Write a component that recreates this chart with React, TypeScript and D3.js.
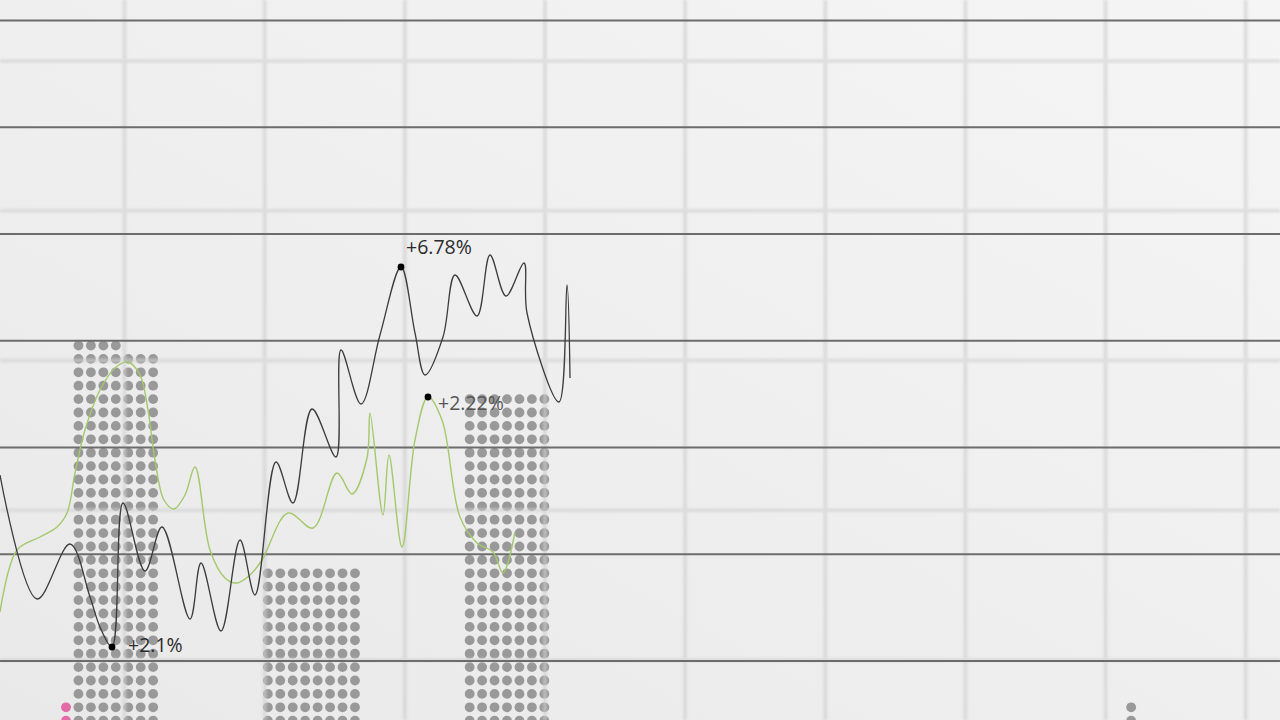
import React from "react";
import * as d3 from "d3";

// ---------- DATA ----------
// dark line series: [time, level]
const darkSeries: [number, number][] = [
  [0, 24.5], [3.7, 12.1], [7.0, 17.6], [9.0, 12.3], [10.0, 9.3], [11.2, 7.3],
  [12.3, 21.7], [14.5, 14.9], [16.2, 19.3], [19.0, 10.1], [20.1, 15.7], [22.1, 8.9],
  [24.0, 18.0], [25.5, 12.5], [27.6, 25.8], [29.3, 21.7], [31.2, 31.1], [33.6, 26.3],
  [34.1, 37.0], [36.1, 31.6], [38.0, 38.5], [40.1, 45.3], [41.5, 38.7], [42.5, 34.5],
  [44.3, 38.3], [45.5, 44.5], [47.7, 40.4], [49.0, 46.5], [50.6, 42.4], [52.4, 45.7],
  [52.7, 40.7], [55.9, 31.8], [56.7, 43.5], [57.0, 34.2],
];

// green line series: [time, level]
const greenSeries: [number, number][] = [
  [0, 10.8], [1.7, 17.0], [4.0, 18.3], [5.7, 19.3], [6.7, 20.7], [7.5, 24.7],
  [8.5, 29.0], [10.0, 33.0], [11.5, 35.2], [12.8, 35.8], [14.0, 34.5], [14.8, 31.0],
  [15.5, 26.0], [16.4, 22.0], [17.4, 21.1], [18.5, 22.5], [19.5, 25.3], [21.0, 17.0],
  [22.5, 14.2], [23.7, 13.7], [25.0, 14.5], [26.2, 16.0], [28.8, 20.7], [31.3, 19.2],
  [33.7, 24.7], [35.2, 22.6], [36.7, 26.2], [37.0, 30.7], [38.3, 20.5], [38.9, 26.5],
  [40.2, 17.3], [41.5, 28.0], [42.8, 32.3], [44.2, 30.0], [46.0, 20.3], [47.7, 17.7],
  [49.3, 16.8], [50.3, 14.7], [51.5, 18.8],
];

// annotated points: series, index into the series, label
const annotationSeries = ["dark", "dark", "green"];
const annotationIndex = [5, 21, 32];
const annotationLabels = ["+2.1%", "+6.78%", "+2.22%"];

// dot-matrix bars
const dotCategories = ["A", "B", "C", "D", "E", "F"];
const dotCounts = [200, 96, 175, 0, 0, 0];
const dotColumns = [7, 8, 7, 7, 7, 7];

// accent dots (category, column slot relative to bar, count)
const accentCategories = ["A", "F"];
const accentSlots = [-4, 3];
const accentCounts = [2, 2];
const accentColors = ["#e26ba8", "#999999"];

// grid
const majorRows = d3.range(0, 7);
const minorRows = d3.range(0, 5);
const minorCols = d3.range(0, 9);

// ---------- LAYOUT ----------
const W = 1280;
const H = 720;

export default function App() {
  const x = d3.scaleLinear().domain([0, 128]).range([0, W]);
  const y = d3.scaleLinear().domain([0, 72]).range([H, 0]);

  const majorY = d3.scaleLinear().domain([0, 6]).range([20.5, 661]);
  const minorY = d3.scaleLinear().domain([0, 4]).range([61, 660]);
  const minorX = d3.scaleLinear().domain([0, 8]).range([124.5, 1245.7]);

  const barCenter = d3
    .scalePoint<string>()
    .domain(dotCategories)
    .range([115.8, 115.8 + 195.6 * 5]);
  const colStep = 12.45;
  const rowY = d3.scaleLinear().domain([0, 1]).range([720.7, 707.3]);
  const dotR = 4.9;

  const line = d3
    .line<[number, number]>()
    .x((d) => x(d[0]))
    .y((d) => y(d[1]))
    .curve(d3.curveCatmullRom.alpha(0.5));

  const dots: { cx: number; cy: number; fill: string; key: string }[] = [];
  dotCategories.forEach((c, i) => {
    const n = dotCounts[i];
    const cols = dotColumns[i];
    const cx0 = barCenter(c)! - ((cols - 1) / 2) * colStep;
    for (let k = 0; k < n; k++) {
      const r = Math.floor(k / cols);
      const col = k % cols;
      dots.push({ cx: cx0 + col * colStep, cy: rowY(r), fill: "#999999", key: `${c}-${k}` });
    }
  });
  accentCategories.forEach((c, i) => {
    for (let k = 0; k < accentCounts[i]; k++) {
      dots.push({
        cx: barCenter(c)! + accentSlots[i] * colStep,
        cy: rowY(k),
        fill: accentColors[i],
        key: `acc-${i}-${k}`,
      });
    }
  });

  const annos = annotationLabels.map((label, i) => {
    const s = annotationSeries[i] === "dark" ? darkSeries : greenSeries;
    const p = s[annotationIndex[i]];
    return { label, px: x(p[0]), py: y(p[1]), i };
  });
  const labelOffsets: [number, number][] = [
    [16, 5],
    [5, -13],
    [10, 13],
  ];
  const labelColors = ["#2b2b2b", "#2b2b2b", "#555555"];

  return (
    <svg
      width={W}
      height={H}
      style={{ position: "absolute", left: 0, top: 0, display: "block" }}
      fontFamily="'Open Sans', 'Noto Sans', sans-serif"
    >
      <defs>
        <linearGradient id="bg" x1="0" y1="1" x2="1" y2="0">
          <stop offset="0" stopColor="#e9e9e9" />
          <stop offset="1" stopColor="#f5f5f5" />
        </linearGradient>
        <filter id="soft" x="-5%" y="-5%" width="110%" height="110%">
          <feGaussianBlur stdDeviation="1.1" />
        </filter>
        <filter id="soft2" x="-5%" y="-5%" width="110%" height="110%">
          <feGaussianBlur stdDeviation="0.4" />
        </filter>
      </defs>
      <rect width={W} height={H} fill="url(#bg)" />

      {/* dot bars */}
      <g>
        {dots.map((d) => (
          <circle key={d.key} cx={d.cx} cy={d.cy} r={dotR} fill={d.fill} />
        ))}
      </g>

      {/* minor grid */}
      <g filter="url(#soft)" opacity={0.6}>
        {minorCols.map((i) => (
          <line key={`mx${i}`} x1={minorX(i)} x2={minorX(i)} y1={0} y2={H} stroke="#cfcfcf" strokeWidth={4} />
        ))}
        {minorRows.map((i) => (
          <line key={`my${i}`} x1={0} x2={W} y1={minorY(i)} y2={minorY(i)} stroke="#d2d2d2" strokeWidth={4} />
        ))}
      </g>

      {/* major grid */}
      <g filter="url(#soft2)">
        {majorRows.map((i) => (
          <line key={`MY${i}`} x1={0} x2={W} y1={majorY(i)} y2={majorY(i)} stroke="#6c6c6c" strokeWidth={2.2} />
        ))}
      </g>

      {/* lines */}
      <path d={line(greenSeries)!} fill="none" stroke="#a3c96a" strokeWidth={1.4} />
      <path d={line(darkSeries)!} fill="none" stroke="#3c3c3c" strokeWidth={1.3} />

      {/* annotations */}
      {annos.map((a) => (
        <g key={a.label}>
          <circle cx={a.px} cy={a.py} r={3.4} fill="#000" />
          <text
            x={a.px + labelOffsets[a.i][0]}
            y={a.py + labelOffsets[a.i][1]}
            fontSize={19.5}
            fill={labelColors[a.i]}
          >
            {a.label}
          </text>
        </g>
      ))}
    </svg>
  );
}
